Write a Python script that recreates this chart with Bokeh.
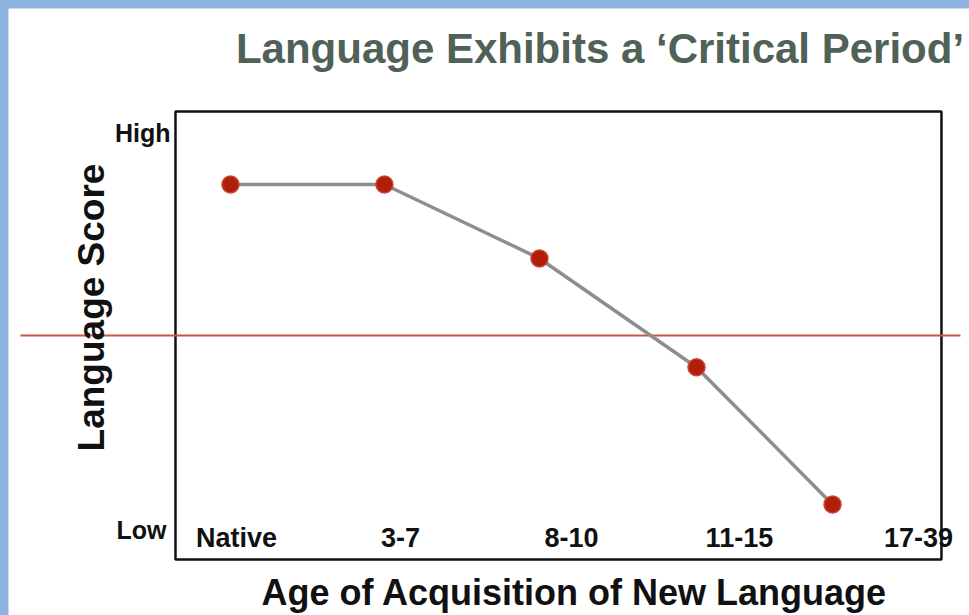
import math
from bokeh.plotting import figure
from bokeh.models import Range1d, ColumnDataSource
from bokeh.core.properties import value
from bokeh.embed import file_html
from bokeh.resources import INLINE

# ---- data ----
categories = ["Native", "3-7", "8-10", "11-15", "17-39"]
category_pos = [0.398, 1.469, 2.585, 3.681, 4.850]      # label centres along the age axis
point_pos = [0.359, 1.364, 2.376, 3.401, 4.289]          # measured point positions
scores = [83.7, 83.7, 67.2, 42.9, 12.3]                  # language score (0 = Low, 100 = High)
threshold = 50
y_levels = ["High", "Low"]
y_level_vals = [95.1, 6.5]

FONT = value("Liberation Sans")

p = figure(width=961, height=607, output_backend="svg", toolbar_location=None,
           x_axis_type=None, y_axis_type=None, min_border=0,
           x_range=Range1d(-1.090, 5.183), y_range=Range1d(-12.5, 122.99))
p.outline_line_color = None
p.grid.visible = False
p.background_fill_color = "white"
p.border_fill_color = "white"

# plot box
p.quad(left=[0], right=[5], bottom=[0], top=[100], fill_color=None,
       line_color="#111111", line_width=2.5)

# threshold line (extends beyond the box)
p.line(x=[-1.012, 5.124], y=[threshold, threshold], line_color="#c4573e", line_width=2)

# data line + points
src = ColumnDataSource(dict(x=point_pos, y=scores))
p.line("x", "y", source=src, line_color="#8e8e8e", line_width=3.5)
p.scatter("x", "y", source=src, size=17, fill_color="#b01e0c", line_color="#c8472f", line_width=1.5)

# category labels inside box
p.text(x=category_pos, y=[4.9] * len(categories), text=categories,
       text_font=FONT, text_font_style="bold", text_font_size="27px",
       text_color="#111111", text_align="center", text_baseline="middle")

# High / Low
p.text(x=[-0.033, -0.059], y=y_level_vals, text=y_levels,
       text_font=FONT, text_font_style="bold", text_font_size="25px",
       text_color="#111111", text_align="right", text_baseline="middle")

# y axis title
p.text(x=[-0.548], y=[56.25], text=["Language Score"], angle=math.pi / 2,
       text_font=FONT, text_font_style="bold", text_font_size="37px",
       text_color="#111111", text_align="center", text_baseline="middle")

# x axis title
p.text(x=[2.604], y=[-7.4], text=["Age of Acquisition of New Language"],
       text_font=FONT, text_font_style="bold", text_font_size="36px",
       text_color="#111111", text_align="center", text_baseline="middle")

# chart title
p.text(x=[2.771], y=[114.1], text=["Language Exhibits a \u2018Critical Period\u2019"],
       text_font=FONT, text_font_style="bold", text_font_size="42px",
       text_color="#506157", text_align="center", text_baseline="middle")

html = file_html(p, INLINE)
html = html.replace(
    "</head>",
    "<style>html,body{margin:0 !important;padding:0 !important;}"
    "body{background:#8db4e2;padding:8px 0 0 8px !important;overflow:hidden;}</style></head>", 1)
open("out.html", "w").write(html)
